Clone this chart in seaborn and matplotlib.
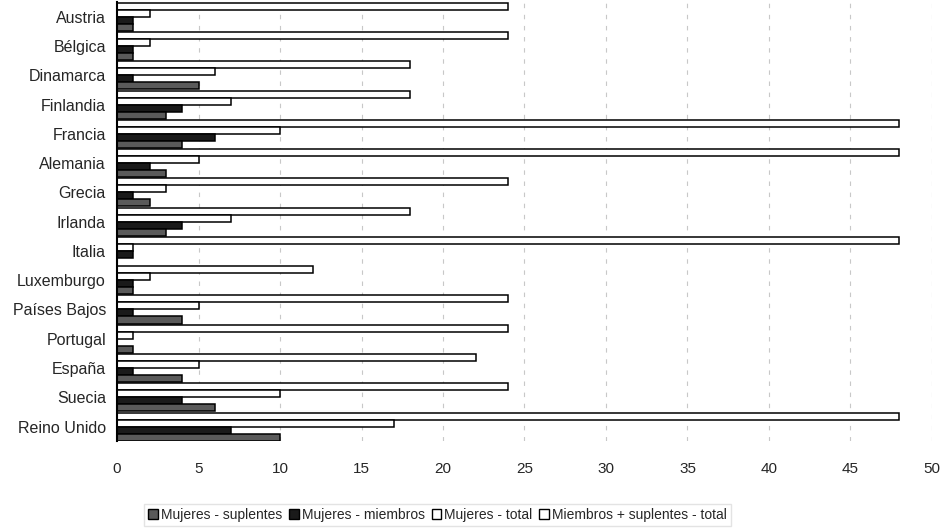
import matplotlib
matplotlib.use("Agg")
import matplotlib.pyplot as plt
from matplotlib.patches import Patch
import seaborn as sns
import pandas as pd

countries = ["Austria", "Bélgica", "Dinamarca", "Finlandia", "Francia", "Alemania",
             "Grecia", "Irlanda", "Italia", "Luxemburgo", "Países Bajos", "Portugal",
             "España", "Suecia", "Reino Unido"]
total_all = [24, 24, 18, 18, 48, 48, 24, 18, 48, 12, 24, 24, 22, 24, 48]
mujeres_total = [2, 2, 6, 7, 10, 5, 3, 7, 1, 2, 5, 1, 5, 10, 17]
mujeres_miembros = [1, 1, 1, 4, 6, 2, 1, 4, 1, 1, 1, 0, 1, 4, 7]
mujeres_suplentes = [1, 1, 5, 3, 4, 3, 2, 3, 0, 1, 4, 1, 4, 6, 10]

series_names = ["Mujeres - suplentes", "Mujeres - miembros", "Mujeres - total",
                "Miembros + suplentes - total"]
series_values = [mujeres_suplentes, mujeres_miembros, mujeres_total, total_all]
colors = {"Mujeres - suplentes": "#5a5a5a", "Mujeres - miembros": "#1a1a1a",
          "Mujeres - total": "#ffffff", "Miembros + suplentes - total": "#ffffff"}

rows = []
for name, vals in zip(series_names, series_values):
    for c, v in zip(countries, vals):
        rows.append({"country": c, "series": name, "value": v})
df = pd.DataFrame(rows)

sns.set_style("white")
plt.rcParams["font.family"] = ["Liberation Sans", "DejaVu Sans"]

fig = plt.figure(figsize=(9.47, 5.29), dpi=100)
ax = fig.add_axes([0.1236, 0.166, 0.8605, 0.830])

hue_order = series_names[::-1]  # top bar in each group is the overall total
sns.barplot(data=df, y="country", x="value", hue="series", hue_order=hue_order,
            order=countries, palette=colors, orient="h", width=0.96,
            edgecolor="black", linewidth=1.1, ax=ax, legend=False)

ax.set_xlim(0, 50)
ax.set_ylim(len(countries) - 0.5, -0.5)
ax.set_xticks(range(0, 51, 5))
ax.xaxis.grid(True, linestyle=(0, (4, 6)), color="#c8c8c8", linewidth=0.8)
ax.set_axisbelow(True)
ax.set_xlabel("")
ax.set_ylabel("")
for s in ["top", "right", "bottom"]:
    ax.spines[s].set_visible(False)
ax.spines["left"].set_color("black")
ax.spines["left"].set_linewidth(1.5)
ax.tick_params(axis="x", length=0, pad=15, labelsize=11)
ax.tick_params(axis="y", length=0, pad=8, labelsize=11.5)

handles = [Patch(facecolor=colors[n], edgecolor="black", label=n) for n in series_names]
fig.legend(handles=handles, loc="lower left", bbox_to_anchor=(0.145, -0.008), ncol=4,
           frameon=True, fancybox=False, edgecolor="#dddddd", fontsize=10,
           handlelength=0.7, handleheight=0.7, handletextpad=0.2, columnspacing=0.5,
           borderpad=0.3)

fig.savefig("out.png", dpi=100)
